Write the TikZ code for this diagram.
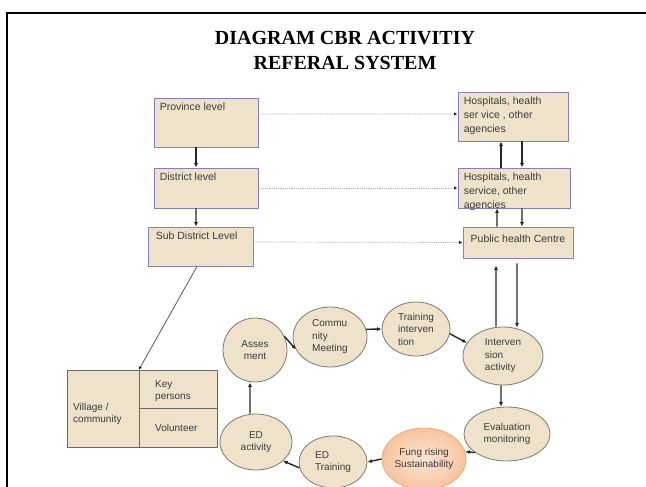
\documentclass[tikz,border=0pt]{standalone}
\usepackage{fontspec}
\setmainfont{Liberation Serif}
\newfontfamily\arialf{Liberation Sans}
\usetikzlibrary{shapes.geometric,arrows.meta}
\definecolor{tanfill}{RGB}{238,226,203}
\definecolor{boxborder}{RGB}{136,128,184}
\definecolor{ellborder}{RGB}{128,122,110}
\definecolor{vilborder}{RGB}{110,104,94}
\definecolor{textgray}{RGB}{60,60,60}
\definecolor{dotgray}{RGB}{175,175,175}
\definecolor{fungin}{RGB}{252,230,210}
\definecolor{fungout}{RGB}{246,196,158}
\definecolor{fungborder}{RGB}{232,170,125}
\begin{document}
\begin{tikzpicture}[x=1bp,y=-1bp,
  txt/.style={font=\arialf\fontsize{10bp}{12.5bp}\selectfont, text=textgray},
  btxt/.style={font=\arialf\fontsize{10.5bp}{13bp}\selectfont, text=textgray},
  htxt/.style={font=\arialf\fontsize{10.5bp}{14bp}\selectfont, text=textgray, align=left, anchor=north west, inner sep=0pt},
  ltxt/.style={btxt, anchor=north west, inner sep=0pt},
  lvl/.style={draw=boxborder, line width=0.9bp, fill=tanfill, inner sep=0pt},
  ell/.style={ellipse, draw=ellborder, line width=0.8bp, fill=tanfill, inner sep=0pt, txt},
  arr/.style={-{Latex[length=4.5bp,width=4bp]}, line width=1.4bp, draw=black!85},
  dotarr/.style={-{Latex[length=3.5bp,width=3.5bp,color=black!85]}, line width=0.7bp, draw=dotgray, dash pattern=on 1.2bp off 1bp},
  thinarr/.style={-{Latex[length=3bp,width=3bp,color=black]}, line width=0.8bp, draw=black!65},
  titlef/.style={font=\bfseries\fontsize{20bp}{24bp}\selectfont, anchor=base}
]
\useasboundingbox (0,0) rectangle (646,487);
\fill[white] (0,0) rectangle (646,487);
\draw[line width=2bp] (7,487) -- (7,13) -- (646,13);

% title
\node[titlef] (title1) at (345,45) {DIAGRAM CBR ACTIVITIY};
\node[titlef] (title2) at (345,70) {REFERAL SYSTEM};

% left column
\node[lvl, minimum width=104bp, minimum height=49bp] (prov) at (206,122.5) {};
\node[ltxt] (provt) at ([xshift=6bp,yshift=-5bp]prov.north west) {Province level};
\node[lvl, minimum width=104bp, minimum height=40bp] (dist) at (206,188) {};
\node[ltxt] (distt) at ([xshift=6bp,yshift=-5bp]dist.north west) {District level};
\node[lvl, minimum width=105bp, minimum height=39bp] (sub) at (200.5,246.5) {};
\node[ltxt] (subt) at ([xshift=8bp,yshift=-5bp]sub.north west) {Sub District Level};

% right column
\node[lvl, minimum width=110bp, minimum height=49bp] (hos1) at (513,116.5) {};
\node[htxt] (hos1t) at ([xshift=6bp,yshift=-5bp]hos1.north west) {Hospitals, health\\ser vice , other\\agencies};
\node[lvl, minimum width=112bp, minimum height=40bp] (hos2) at (514,188) {};
\node[htxt] (hos2t) at ([xshift=6bp,yshift=-5bp]hos2.north west) {Hospitals, health\\service, other\\agencies};
\node[lvl, minimum width=110bp, minimum height=31bp] (phc) at (518,242.5) {};
\node[btxt, inner sep=0pt] (phct) at (518,238.5) {Public health Centre};

% village box
\node[draw=vilborder, line width=0.9bp, fill=tanfill, minimum width=150bp, minimum height=77bp, inner sep=0pt] (vil) at (142,408.5) {};
\draw[vilborder, line width=1bp] ([xshift=-3bp]vil.north) -- ([xshift=-3bp]vil.south);
\draw[vilborder, line width=1bp] ([xshift=-3bp]vil.center) -- (vil.east);
\node[txt, align=left, anchor=west, inner sep=0pt] (vilt) at (73,414) {Village /\\community};
\node[txt, align=left, anchor=west, inner sep=0pt] (keyt) at (155,391) {Key\\persons};
\node[txt, anchor=west, inner sep=0pt] (volt) at (155,428) {Volunteer};
\coordinate (viltop) at ([xshift=-3bp]vil.north);

% cycle ellipses
\node[ell, minimum width=64bp, minimum height=64bp, align=center] (assess) at (255,350) {Asses\\ment};
\node[ell, minimum width=74bp, minimum height=60bp, align=left] (commu) at (330,337) {Commu\\nity\\Meeting};
\node[ell, minimum width=68bp, minimum height=54bp, align=left] (train) at (416,329) {Training\\interven\\tion};
\node[ell, minimum width=80bp, minimum height=58bp, align=left] (interv) at (503,356) {Interven\\sion\\activity};
\node[ell, minimum width=86bp, minimum height=54bp, align=center] (eval) at (507,434) {Evaluation\\monitoring};
\node[ellipse, draw=fungborder, line width=0.8bp, inner color=fungin, outer color=fungout, inner sep=0pt, txt, align=center, minimum width=84bp, minimum height=62bp] (fung) at (424,459) {Fung rising\\Sustainability};
\node[ell, minimum width=68bp, minimum height=52bp, align=left] (edtrain) at (333,462) {ED\\Training};
\node[ell, minimum width=72bp, minimum height=56bp, align=center] (edact) at (256,442) {ED\\activity};

% hierarchy arrows
\draw[arr] ([xshift=-10bp]prov.south) -- ([xshift=-10bp]dist.north);
\draw[arr] ([xshift=-10bp]dist.south) -- ([xshift=-4.5bp]sub.north);
\draw[arr] ([xshift=-13bp]hos2.north) -- ([xshift=-12bp]hos1.south);
\draw[arr] ([xshift=9bp]hos1.south) -- ([xshift=8bp]hos2.north);
\draw[arr] ([xshift=-21bp]phc.north) -- ([xshift=-17bp]hos2.south);
\draw[arr] ([xshift=8bp]hos2.south) -- ([xshift=4bp]phc.north);

% dotted referral lines
\draw[dotarr] ([yshift=8.5bp]prov.east) -- ([yshift=2.5bp]hos1.west);
\draw[dotarr] (dist.east) -- (hos2.west);
\draw[dotarr] ([yshift=4.5bp]sub.east) -- (phc.west);

% sub district to village
\draw[thinarr] ([xshift=-3.5bp]sub.south) -- (viltop);

% PHC <-> intervention
\draw[arr] ([xshift=-7bp]interv.north) -- ([xshift=-22bp,yshift=-7bp]phc.south);
\draw[arr] ([xshift=-1bp,yshift=-5bp]phc.south) -- ([xshift=14bp,yshift=-1bp]interv.north);

% cycle
\draw[arr] (assess.25) -- (commu.200);
\draw[arr] (commu.12) -- (train.west);
\draw[arr] (train.-8) -- (interv.160);
\draw[arr] ([xshift=-2bp]interv.south) -- ([xshift=-6bp]eval.north);
\draw[arr] (eval.210) -- (fung.10);
\draw[arr] (fung.west) -- (edtrain.east);
\draw[arr] (edtrain.190) -- (edact.-35);
\draw[arr] ([xshift=-6bp]edact.north) -- ([xshift=-5bp]assess.south);
\end{tikzpicture}
\end{document}
